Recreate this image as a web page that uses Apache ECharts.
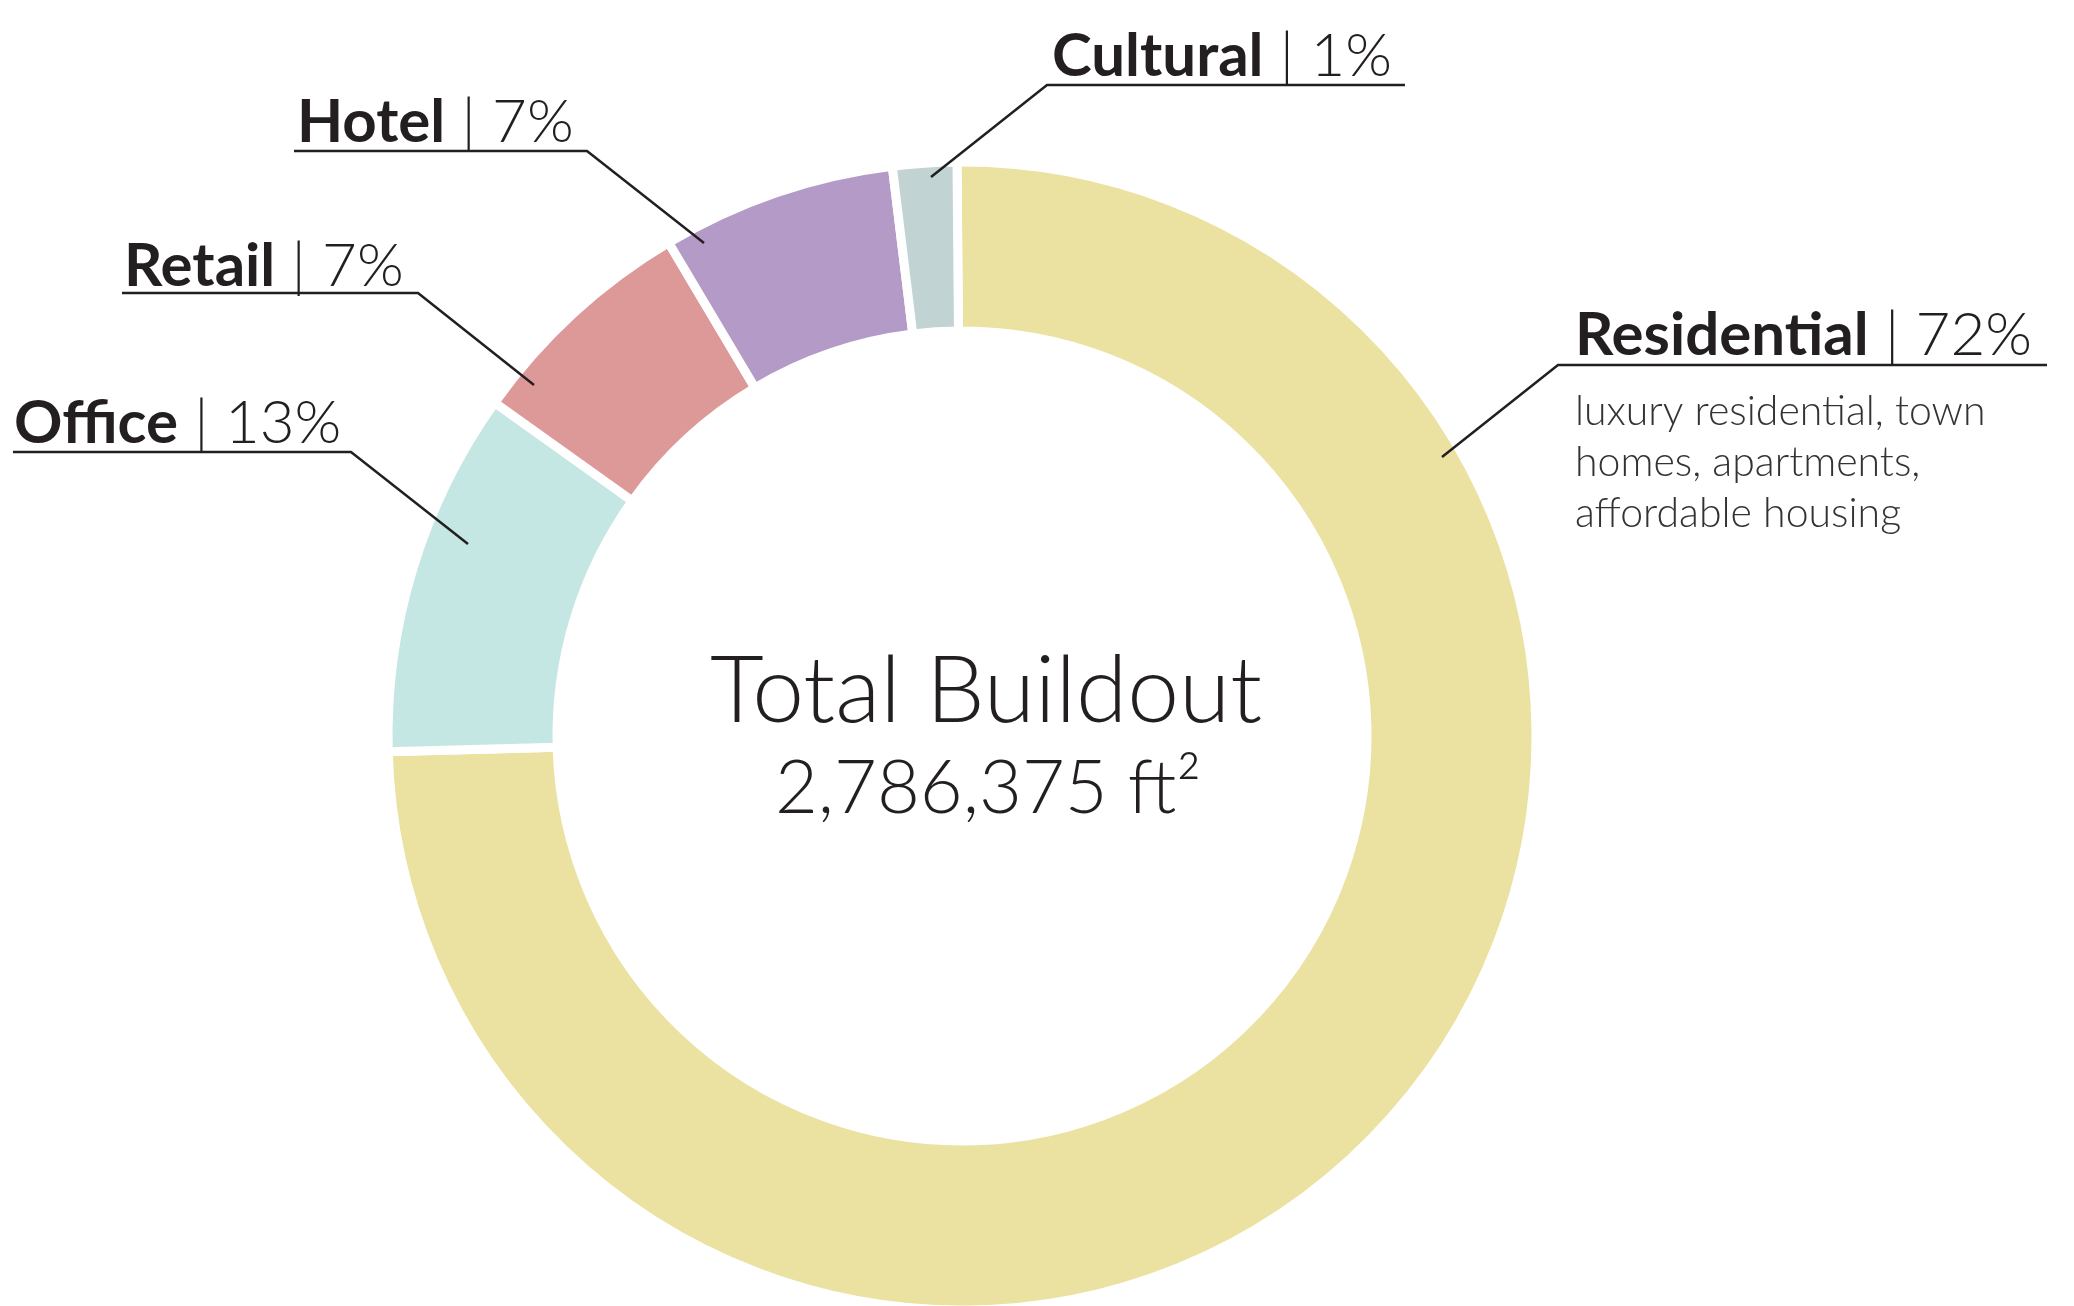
<!DOCTYPE html>
<html>
<head>
<meta charset="utf-8">
<title>Total Buildout</title>
<script src="https://cdn.jsdelivr.net/npm/echarts@6/dist/echarts.min.js"></script>
<style>
  html, body { margin: 0; padding: 0; background: #fff; }
  #chart { width: 2074px; height: 1306px; }
</style>
</head>
<body>
<div id="chart"></div>
<script>
// slice sizes as drawn (share of the ring), label text as printed
var categories = ['Residential', 'Office', 'Retail', 'Hotel', 'Cultural'];
var shares = [74.7, 10.3, 6.6, 6.6, 1.8];
var printedPct = ['72%', '13%', '7%', '7%', '1%'];
var notes = [['luxury residential, town', 'homes, apartments,', 'affordable housing'], [], [], [], []];
var totalTitle = 'Total Buildout';
var totalArea = '2,786,375 ft\u00b2';

var colors = ['#ebe2a2', '#c5e7e4', '#dc9997', '#b39ac7', '#c1d3d3'];
var ink = '#231f20';

// label placement: text left, baseline, leader line (point in slice, elbow, end of underline)
var labelSpots = [
  { x: 1575, base: 357, line: [[1442, 457], [1558, 365], [2047, 365]] },
  { x: 14,   base: 445, line: [[468, 544], [351, 452], [13, 452]] },
  { x: 124,  base: 288, line: [[534, 385], [418, 293], [122, 293]] },
  { x: 297,  base: 144, line: [[704, 243], [587, 151], [294, 151]] },
  { x: 1052, base: 78,  line: [[931, 177], [1047, 85], [1405, 85]] }
];

var chart = echarts.init(document.getElementById('chart'));

var graphics = [
  {
    type: 'text',
    x: 986, y: 692,
    style: {
      text: totalTitle,
      fontFamily: 'Lato', fontWeight: 300, fontSize: 93,
      fill: ink, align: 'center', verticalAlign: 'middle'
    }
  },
  {
    type: 'text',
    x: 988, y: 789,
    style: {
      text: totalArea,
      fontFamily: 'Lato', fontWeight: 300, fontSize: 74,
      fill: ink, align: 'center', verticalAlign: 'middle'
    }
  }
];

// leader lines with the underline under each label
labelSpots.forEach(function (s) {
  graphics.push({
    type: 'polyline',
    z: 100,
    shape: { points: s.line },
    style: { stroke: ink, lineWidth: 2.5, fill: null }
  });
});

chart.setOption({
  backgroundColor: '#fff',
  animation: false,
  color: colors,
  graphic: graphics,
  series: [
    {
      type: 'pie',
      center: [962, 736],
      radius: [405, 574],
      startAngle: 90.5,
      clockwise: true,
      avoidLabelOverlap: false,
      emphasis: { disabled: true },
      itemStyle: { borderColor: '#fff', borderWidth: 9 },
      label: {
        show: true,
        color: ink,
        formatter: function (p) {
          var i = p.dataIndex;
          var s = '{n|' + categories[i] + '}{p| | ' + printedPct[i] + '}';
          notes[i].forEach(function (t) { s += '\n{d|' + t + '}'; });
          return s;
        },
        rich: {
          n: { fontFamily: 'Lato', fontWeight: 700, fontSize: 60, color: ink, lineHeight: 101 },
          p: { fontFamily: 'Lato', fontWeight: 300, fontSize: 60, color: ink, lineHeight: 101 },
          d: { fontFamily: 'Lato', fontWeight: 300, fontSize: 41, color: '#333', lineHeight: 51 }
        }
      },
      labelLine: { show: false },
      labelLayout: function (params) {
        var s = labelSpots[params.dataIndex];
        return {
          x: s.x,
          y: s.base - 71.5,
          align: 'left',
          verticalAlign: 'top'
        };
      },
      data: categories.map(function (c, i) {
        return { name: c, value: shares[i] };
      })
    }
  ]
});
</script>
</body>
</html>
